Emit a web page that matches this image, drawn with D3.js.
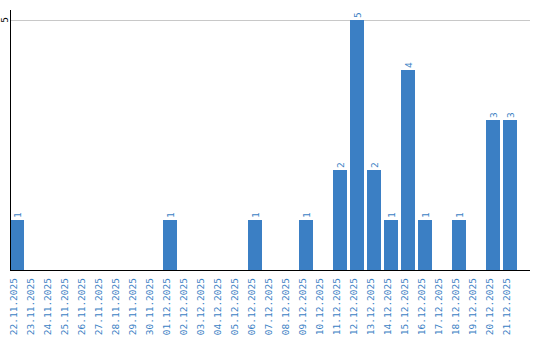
<!DOCTYPE html>
<html>
<head>
<meta charset="utf-8">
<script src="https://cdn.jsdelivr.net/npm/d3@7"></script>
<style>
  body { margin: 0; background: #fff; }
  text { font-family: "DejaVu Sans Mono", monospace; font-size: 9.5px; }
</style>
</head>
<body>
<svg id="chart"></svg>
<script>
// dates and counts
var dates = ["22.11.2025","23.11.2025","24.11.2025","25.11.2025","26.11.2025","27.11.2025",
  "28.11.2025","29.11.2025","30.11.2025","01.12.2025","02.12.2025","03.12.2025","04.12.2025",
  "05.12.2025","06.12.2025","07.12.2025","08.12.2025","09.12.2025","10.12.2025","11.12.2025",
  "12.12.2025","13.12.2025","14.12.2025","15.12.2025","16.12.2025","17.12.2025","18.12.2025",
  "19.12.2025","20.12.2025","21.12.2025"];
var counts = [1,0,0,0,0,0,0,0,0,1,0,0,0,0,1,0,0,1,0,2,5,2,1,4,1,0,1,0,3,3];
var yTicks = [5];

var svgWidth = 540, svgHeight = 340;
var left = 10, baseY = 270, topY = 20;
var blue = "#3b7fc4";

var svg = d3.select("#chart")
    .attr("width", svgWidth)
    .attr("height", svgHeight);

// step 17px, bar 14px
var x = d3.scaleBand()
    .domain(dates)
    .range([left, left + 17 * dates.length - 3])
    .paddingInner(3 / 17)
    .paddingOuter(0);

var y = d3.scaleLinear()
    .domain([0, 5])
    .range([baseY, topY]);

// grid line
svg.selectAll(".grid")
    .data(yTicks)
    .enter().append("line")
    .attr("x1", left).attr("x2", 530)
    .attr("y1", function(d) { return y(d) + 0.5; })
    .attr("y2", function(d) { return y(d) + 0.5; })
    .attr("stroke", "#c8c8c8");

// bars
var data = dates.map(function(d, i) { return { date: d, n: counts[i] }; });
var shown = data.filter(function(d) { return d.n > 0; });

svg.selectAll(".bar")
    .data(shown)
    .enter().append("rect")
    .attr("x", function(d) { return x(d.date); })
    .attr("y", function(d) { return y(d.n); })
    .attr("width", x.bandwidth())
    .attr("height", function(d) { return baseY - y(d.n); })
    .attr("fill", blue);

// value labels
svg.selectAll(".val")
    .data(shown)
    .enter().append("text")
    .attr("transform", function(d) {
        return "translate(" + (x(d.date) + 10.5) + "," + (y(d.n) - 2) + ") rotate(-90)";
    })
    .attr("fill", blue)
    .text(function(d) { return d.n; });

// y axis
svg.append("line")
    .attr("x1", left + 0.5).attr("x2", left + 0.5)
    .attr("y1", 10).attr("y2", baseY + 1)
    .attr("stroke", "#000");
svg.selectAll(".ytick")
    .data(yTicks)
    .enter().append("text")
    .attr("transform", function(d) { return "translate(8," + y(d) + ") rotate(-90)"; })
    .attr("text-anchor", "middle")
    .attr("fill", "#000")
    .text(function(d) { return d; });

// x axis
var xAxis = svg.append("g")
    .attr("transform", "translate(0," + baseY + ")")
    .call(d3.axisBottom(x).tickSize(0));
xAxis.select(".domain").remove();
svg.append("line")
    .attr("x1", left).attr("x2", 530)
    .attr("y1", baseY + 0.5).attr("y2", baseY + 0.5)
    .attr("stroke", "#000");
xAxis.selectAll("text")
    .attr("transform", "translate(-3.5,8) rotate(-90)")
    .attr("x", 0).attr("y", 0).attr("dy", "0.35em")
    .attr("text-anchor", "end")
    .attr("fill", blue)
    .style("font-family", "\"DejaVu Sans Mono\", monospace")
    .style("font-size", "9.5px");
</script>
</body>
</html>
